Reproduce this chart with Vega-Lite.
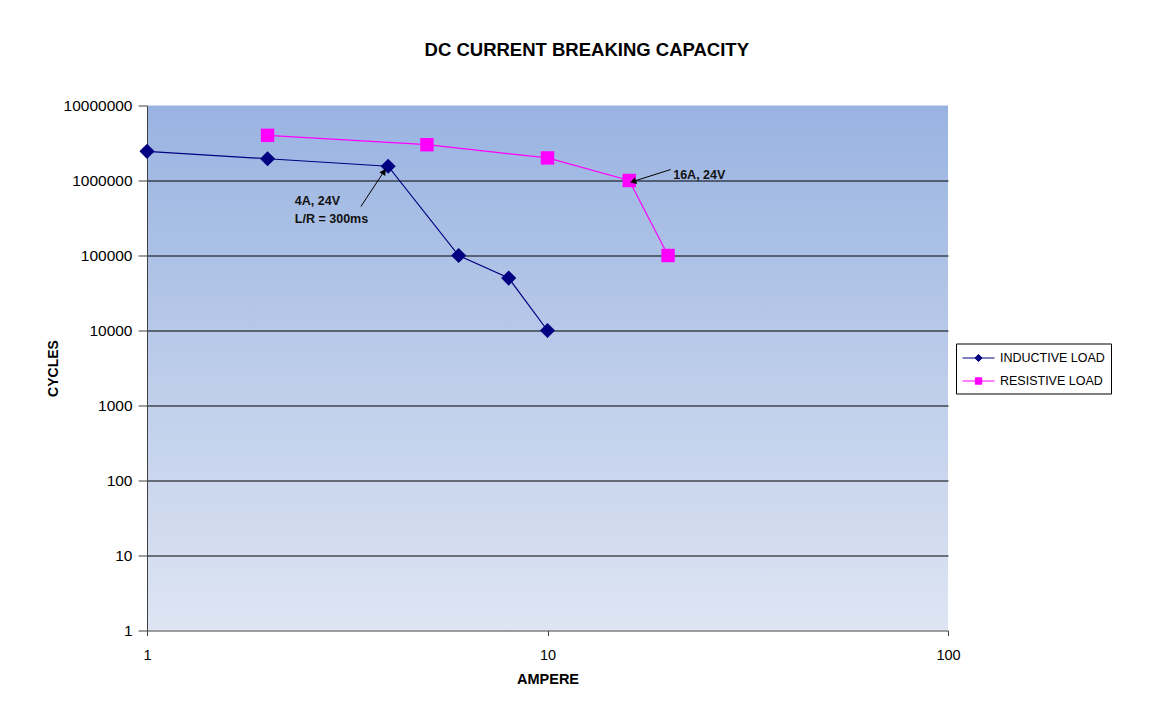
{
  "$schema": "https://vega.github.io/schema/vega-lite/v6.json",
  "width": 801,
  "height": 525,
  "padding": {"left": 46, "top": 40.5, "right": 40, "bottom": 20},
  "background": "white",
  "title": {
    "text": "DC CURRENT BREAKING CAPACITY",
    "font": "Liberation Sans",
    "fontSize": 18.5,
    "fontWeight": "bold",
    "color": "black",
    "anchor": "middle",
    "frame": "bounds",
    "dx": 8,
    "offset": 39.5
  },
  "config": {
    "view": {
      "stroke": null,
      "fill": {
        "gradient": "linear",
        "x1": 0, "y1": 0, "x2": 0, "y2": 1,
        "stops": [
          {"offset": 0, "color": "#99B3E1"},
          {"offset": 1, "color": "#DEE5F3"}
        ]
      }
    },
    "axis": {
      "labelFont": "Liberation Sans",
      "titleFont": "Liberation Sans",
      "labelColor": "black",
      "titleColor": "black",
      "tickColor": "#404040",
      "domainColor": "#404040"
    }
  },
  "datasets": {
    "series": [
      {"Ampere": 1, "Cycles": 2450000, "Series": "INDUCTIVE LOAD"},
      {"Ampere": 2, "Cycles": 1950000, "Series": "INDUCTIVE LOAD"},
      {"Ampere": 4, "Cycles": 1550000, "Series": "INDUCTIVE LOAD"},
      {"Ampere": 6, "Cycles": 100000, "Series": "INDUCTIVE LOAD"},
      {"Ampere": 8, "Cycles": 50000, "Series": "INDUCTIVE LOAD"},
      {"Ampere": 10, "Cycles": 10000, "Series": "INDUCTIVE LOAD"},
      {"Ampere": 2, "Cycles": 4000000, "Series": "RESISTIVE LOAD"},
      {"Ampere": 5, "Cycles": 3000000, "Series": "RESISTIVE LOAD"},
      {"Ampere": 10, "Cycles": 2000000, "Series": "RESISTIVE LOAD"},
      {"Ampere": 16, "Cycles": 1000000, "Series": "RESISTIVE LOAD"},
      {"Ampere": 20, "Cycles": 100000, "Series": "RESISTIVE LOAD"}
    ],
    "labels": [
      {"x": 2.34, "y": 541000, "label": "4A, 24V"},
      {"x": 2.34, "y": 311000, "label": "L/R = 300ms"},
      {"x": 20.6, "y": 1167000, "label": "16A, 24V"}
    ],
    "arrows": [
      {"id": "a", "x": 3.42, "y": 450000, "x2": 3.906, "y2": 1318000},
      {"id": "b", "x": 20.3, "y": 1400000, "x2": 16.35, "y2": 970000}
    ]
  },
  "layer": [
    {
      "data": {"name": "series"},
      "mark": {"type": "line", "strokeWidth": 1.2},
      "encoding": {
        "x": {
          "field": "Ampere", "type": "quantitative",
          "scale": {"type": "log", "domain": [1, 100], "nice": false},
          "axis": {
            "title": "AMPERE",
            "titleFontSize": 14.5,
            "titleFontWeight": "bold",
            "titlePadding": 10,
            "values": [1, 10, 100],
            "format": "d",
            "labelFontSize": 14.5,
            "labelPadding": 13,
            "tickSize": 5,
            "grid": false,
            "labelFlush": false
          }
        },
        "y": {
          "field": "Cycles", "type": "quantitative",
          "scale": {"type": "log", "domain": [1, 10000000], "nice": false},
          "axis": {
            "title": "CYCLES",
            "titleFontSize": 14,
            "titleFontWeight": "bold",
            "titlePadding": 3,
            "values": [1, 10, 100, 1000, 10000, 100000, 1000000, 10000000],
            "format": "d",
            "labelFontSize": 15.5,
            "labelPadding": 6,
            "tickSize": 9,
            "grid": true,
            "gridColor": "black",
            "gridWidth": 1,
            "gridOpacity": {"condition": {"test": "datum.value >= 10000000 || datum.value <= 1", "value": 0}, "value": 1},
            "labelFlush": false
          }
        },
        "color": {
          "field": "Series", "type": "nominal",
          "scale": {"domain": ["INDUCTIVE LOAD", "RESISTIVE LOAD"], "range": ["#000080", "#FF00FF"]},
          "legend": {
            "title": null,
            "orient": "none",
            "legendX": 809,
            "legendY": 238,
            "fillColor": "white",
            "strokeColor": "black",
            "padding": 6,
            "labelFont": "Liberation Sans",
            "labelFontSize": 12.5,
            "labelColor": "black",
            "symbolSize": 256,
            "rowPadding": 8,
            "labelOffset": 21,
            "encode": {
              "symbols": {
                "update": {
                  "shape": {"signal": "datum.value === 'RESISTIVE LOAD' ? 'M-1,0L3,0M0.6,-0.4L1.4,-0.4L1.4,0.4L0.6,0.4Z' : 'M-1,0L3,0M1,-0.45L1.45,0L1,0.45L0.55,0Z'"},
                  "fill": {"scale": "color", "field": "value"},
                  "stroke": {"scale": "color", "field": "value"},
                  "strokeWidth": {"value": 1},
                  "opacity": {"value": 1}
                }
              }
            }
          }
        }
      }
    },
    {
      "data": {"name": "series"},
      "transform": [{"filter": "datum.Series === 'INDUCTIVE LOAD'"}],
      "mark": {"type": "point", "filled": true, "opacity": 1, "shape": "diamond", "size": 230, "color": "#000080"},
      "encoding": {
        "x": {"field": "Ampere", "type": "quantitative"},
        "y": {"field": "Cycles", "type": "quantitative"}
      }
    },
    {
      "data": {"name": "series"},
      "transform": [{"filter": "datum.Series === 'RESISTIVE LOAD'"}],
      "mark": {"type": "point", "filled": true, "opacity": 1, "shape": "square", "size": 180, "color": "#FF00FF"},
      "encoding": {
        "x": {"field": "Ampere", "type": "quantitative"},
        "y": {"field": "Cycles", "type": "quantitative"}
      }
    },
    {
      "data": {"name": "arrows"},
      "mark": {"type": "rule", "color": "black", "strokeWidth": 1},
      "encoding": {
        "x": {"field": "x", "type": "quantitative"},
        "y": {"field": "y", "type": "quantitative"},
        "x2": {"field": "x2"},
        "y2": {"field": "y2"}
      }
    },
    {
      "data": {"name": "arrows"},
      "transform": [{"filter": "datum.id === 'a'"}],
      "mark": {"type": "point", "shape": "triangle-up", "filled": true, "color": "black", "size": 50, "angle": 33, "opacity": 1},
      "encoding": {
        "x": {"field": "x2", "type": "quantitative"},
        "y": {"field": "y2", "type": "quantitative"}
      }
    },
    {
      "data": {"name": "arrows"},
      "transform": [{"filter": "datum.id === 'b'"}],
      "mark": {"type": "point", "shape": "triangle-up", "filled": true, "color": "black", "size": 50, "angle": 252, "opacity": 1},
      "encoding": {
        "x": {"field": "x2", "type": "quantitative"},
        "y": {"field": "y2", "type": "quantitative"}
      }
    },
    {
      "data": {"name": "labels"},
      "mark": {"type": "text", "align": "left", "baseline": "middle", "font": "Liberation Sans", "fontSize": 12.5, "fontWeight": "bold", "color": "#111111"},
      "encoding": {
        "x": {"field": "x", "type": "quantitative"},
        "y": {"field": "y", "type": "quantitative"},
        "text": {"field": "label"}
      }
    }
  ]
}
